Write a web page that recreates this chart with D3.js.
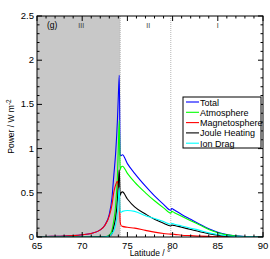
<!DOCTYPE html>
<html>
<head>
<meta charset="utf-8">
<script src="https://cdn.jsdelivr.net/npm/d3@7"></script>
<style>
  body { margin: 0; background: #fff; }
  text { font-family: "Liberation Sans", Arial, sans-serif; }
</style>
</head>
<body>
<svg id="chart"></svg>
<script>
var width = 270;
var height = 259;
var margin = { top: 16, right: 7, bottom: 22, left: 37 };

// latitude grid (degrees) shared by all series
var lat = [65, 66, 67, 68, 69, 70, 71, 72, 72.5, 73, 73.3, 73.5, 73.7, 73.9, 74.0, 74.1, 74.2, 74.3, 74.45, 75, 75.8, 77, 78, 79, 79.8, 79.9, 80.2, 81, 82, 83, 84, 85, 86, 87, 88, 89, 90];

var total = [0.004, 0.006, 0.008, 0.011, 0.016, 0.025, 0.04, 0.081, 0.133, 0.26, 0.45, 0.70, 0.95, 1.33, 1.60, 1.83, 0.93, 0.92, 0.93, 0.83, 0.72, 0.575, 0.465, 0.37, 0.302, 0.322, 0.305, 0.255, 0.20, 0.145, 0.092, 0.053, 0.027, 0.013, 0.006, 0.0025, 0];
var atmosphere = [0, 0, 0, 0, 0, 0, 0, 0.001, 0.003, 0.02, 0.08, 0.19, 0.36, 0.70, 1.02, 1.32, 0.76, 0.79, 0.80, 0.72, 0.62, 0.50, 0.41, 0.33, 0.27, 0.29, 0.275, 0.235, 0.185, 0.135, 0.085, 0.048, 0.024, 0.011, 0.005, 0.002, 0];
var magnetosphere = [0.004, 0.006, 0.008, 0.011, 0.016, 0.025, 0.04, 0.08, 0.13, 0.24, 0.37, 0.51, 0.59, 0.63, 0.58, 0.53, 0.17, 0.13, 0.12, 0.11, 0.10, 0.075, 0.055, 0.04, 0.032, 0.032, 0.03, 0.02, 0.015, 0.01, 0.007, 0.005, 0.003, 0.002, 0.001, 0.0005, 0];
var jouleHeating = [0, 0, 0, 0, 0, 0, 0, 0.001, 0.002, 0.01, 0.04, 0.12, 0.22, 0.42, 0.60, 0.76, 0.47, 0.50, 0.51, 0.43, 0.34, 0.26, 0.20, 0.155, 0.125, 0.135, 0.13, 0.11, 0.085, 0.06, 0.038, 0.02, 0.01, 0.005, 0.002, 0.001, 0];
var ionDrag = [0, 0, 0, 0, 0, 0, 0, 0, 0.001, 0.01, 0.04, 0.07, 0.14, 0.28, 0.42, 0.56, 0.29, 0.28, 0.29, 0.30, 0.29, 0.24, 0.21, 0.175, 0.145, 0.155, 0.145, 0.125, 0.10, 0.075, 0.047, 0.028, 0.014, 0.006, 0.003, 0.001, 0];

var seriesNames = ["Total", "Atmosphere", "Magnetosphere", "Joule Heating", "Ion Drag"];
var seriesValues = [total, atmosphere, magnetosphere, jouleHeating, ionDrag];
var seriesColors = ["#0000ff", "#00ff00", "#ff0000", "#000000", "#00ffff"];

// region boundaries and labels
var boundaries = [74.2, 79.8];
var regionLabels = [{ text: "III", lat: 69.9 }, { text: "II", lat: 77.3 }, { text: "I", lat: 85.0 }];

var xTicks = [65, 70, 75, 80, 85, 90];
var yTicks = [0, 0.5, 1, 1.5, 2, 2.5];

var svg = d3.select("#chart").attr("width", width).attr("height", height);

var x = d3.scaleLinear().domain([65, 90]).range([margin.left, width - margin.right]);
var y = d3.scaleLinear().domain([0, 2.5]).range([height - margin.bottom, margin.top]);

var x0 = x.range()[0], x1 = x.range()[1];
var y0 = y.range()[0], y1 = y.range()[1];

svg.append("clipPath").attr("id", "plotClip")
  .append("rect").attr("x", x0).attr("y", y1).attr("width", x1 - x0).attr("height", y0 - y1);

// shaded region III
svg.append("rect")
  .attr("x", x(65)).attr("y", y1)
  .attr("width", x(boundaries[0]) - x(65))
  .attr("height", y0 - y1)
  .attr("fill", "#c8c8c8");

// dotted boundary lines
svg.selectAll(".boundary")
  .data(boundaries)
  .enter()
  .append("line")
  .attr("class", "boundary")
  .attr("x1", function (d) { return x(d); })
  .attr("x2", function (d) { return x(d); })
  .attr("y1", y1).attr("y2", y0)
  .attr("stroke", "#b4b4b4")
  .attr("stroke-width", 1)
  .attr("stroke-dasharray", "1,1");

// curves
var line = d3.line()
  .x(function (d, i) { return x(lat[i]); })
  .y(function (d) { return y(d); })
  .curve(d3.curveMonotoneX);

svg.append("g").attr("clip-path", "url(#plotClip)")
  .selectAll("path")
  .data(seriesValues)
  .enter()
  .append("path")
  .attr("d", function (d) { return line(d); })
  .attr("fill", "none")
  .attr("stroke", function (d, i) { return seriesColors[i]; })
  .attr("stroke-width", 1.1);

// frame
svg.append("rect")
  .attr("x", x0).attr("y", y1)
  .attr("width", x1 - x0).attr("height", y0 - y1)
  .attr("fill", "none").attr("stroke", "#000").attr("stroke-width", 1);

// ticks on all four sides, pointing inward
var xMinor = d3.range(65, 91, 1);
var yMinor = d3.range(0, 26, 1).map(function (d) { return d / 10; });

function tickLen(v, step) { return Math.abs(v / step - Math.round(v / step)) < 1e-6 ? 5 : 2.5; }

var ticks = svg.append("g").attr("stroke", "#000").attr("stroke-width", 1);
xMinor.forEach(function (v) {
  var l = tickLen(v, 5);
  ticks.append("line").attr("x1", x(v)).attr("x2", x(v)).attr("y1", y0).attr("y2", y0 - l);
  ticks.append("line").attr("x1", x(v)).attr("x2", x(v)).attr("y1", y1).attr("y2", y1 + l);
});
yMinor.forEach(function (v) {
  var l = tickLen(v, 0.5);
  ticks.append("line").attr("x1", x0).attr("x2", x0 + l).attr("y1", y(v)).attr("y2", y(v));
  ticks.append("line").attr("x1", x1).attr("x2", x1 - l).attr("y1", y(v)).attr("y2", y(v));
});

// tick labels
svg.selectAll(".xlab")
  .data(xTicks)
  .enter()
  .append("text")
  .attr("x", function (d) { return x(d); })
  .attr("y", y0 + 12)
  .attr("text-anchor", "middle")
  .attr("font-size", 9.5)
  .text(function (d) { return d; });

svg.selectAll(".ylab")
  .data(yTicks)
  .enter()
  .append("text")
  .attr("x", x0 - 3)
  .attr("y", function (d) { return y(d) + 3; })
  .attr("text-anchor", "end")
  .attr("font-size", 9.5)
  .text(function (d) { return d; });

// axis titles
svg.append("text")
  .attr("x", (x0 + x1) / 2)
  .attr("y", height - 3)
  .attr("text-anchor", "middle")
  .attr("font-size", 8.5)
  .text("Latitude / \u00b0");

var yTitle = svg.append("text")
  .attr("transform", "translate(14," + (y0 + y1) / 2 + ") rotate(-90)")
  .attr("text-anchor", "middle")
  .attr("font-size", 8.5);
yTitle.append("tspan").text("Power / W m");
yTitle.append("tspan").attr("dy", -3.5).attr("font-size", 6.5).text("-2");

// panel and region labels
svg.append("text")
  .attr("x", 47).attr("y", 28)
  .attr("font-size", 8.5)
  .text("(g)");

svg.selectAll(".region")
  .data(regionLabels)
  .enter()
  .append("text")
  .attr("x", function (d) { return x(d.lat); })
  .attr("y", 28)
  .attr("text-anchor", "middle")
  .attr("font-size", 7)
  .attr("fill", "#333")
  .text(function (d) { return d.text; });

// legend
var legend = svg.append("g").attr("transform", "translate(183,97)");
legend.append("rect")
  .attr("width", 78).attr("height", 51)
  .attr("fill", "#fff").attr("stroke", "#000").attr("stroke-width", 1);

var items = legend.selectAll(".item")
  .data(seriesNames)
  .enter()
  .append("g")
  .attr("transform", function (d, i) { return "translate(0," + (5 + i * 10.3) + ")"; });

items.append("line")
  .attr("x1", 3).attr("x2", 16)
  .attr("stroke", function (d, i) { return seriesColors[i]; })
  .attr("stroke-width", 1.1);

items.append("text")
  .attr("x", 17)
  .attr("y", 3.5)
  .attr("font-size", 9)
  .text(function (d) { return d; });
</script>
</body>
</html>
